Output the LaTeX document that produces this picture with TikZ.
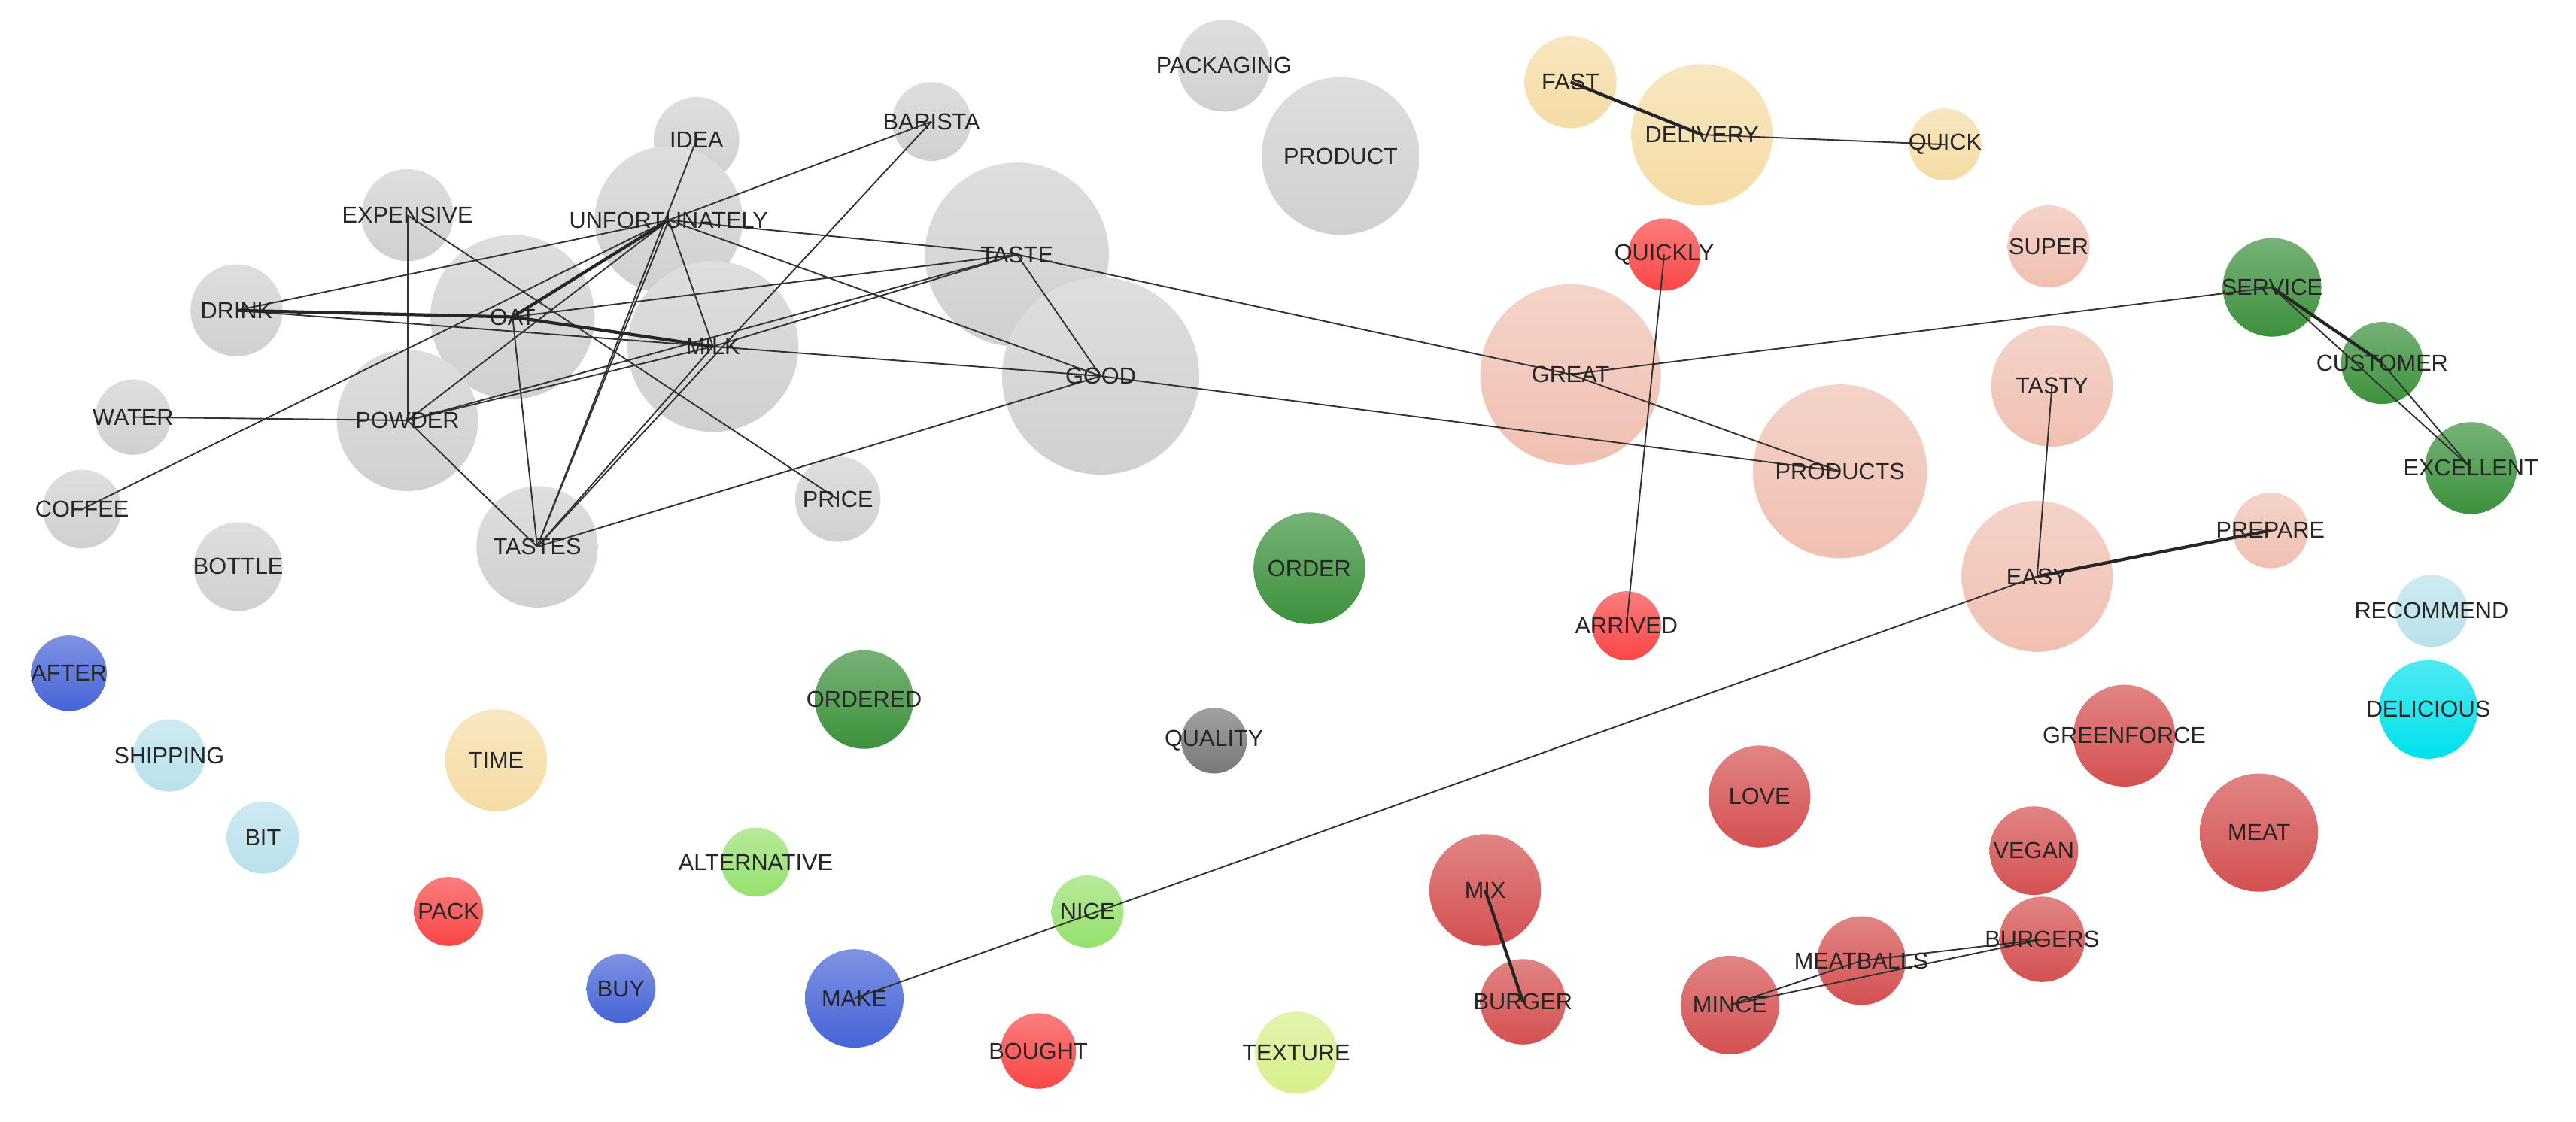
\documentclass[tikz,border=0pt]{standalone}
\usepackage{fontspec}
\setmainfont{Liberation Sans}
\begin{document}
\begin{tikzpicture}[x=0.02cm,y=-0.02cm,
  edge/.style={draw=black!80,line width=0.5pt},
  thick edge/.style={draw=black!85,line width=1.1pt},
  lbl/.style={font=\fontsize{8}{9}\selectfont,text=black!85}]
\definecolor{cgray}{RGB}{208,208,208}
\definecolor{csal}{RGB}{240,192,178}
\definecolor{cgreen}{RGB}{60,145,60}
\definecolor{cred}{RGB}{212,80,80}
\definecolor{cbred}{RGB}{250,70,70}
\definecolor{cyel}{RGB}{245,220,165}
\definecolor{clb}{RGB}{185,225,235}
\definecolor{cblue}{RGB}{70,100,215}
\definecolor{clg}{RGB}{150,225,110}
\definecolor{ccyan}{RGB}{0,225,235}
\definecolor{cyg}{RGB}{215,240,140}
\definecolor{cdg}{RGB}{120,120,120}
\useasboundingbox[fill=white] (0,0) rectangle (1568,683);
\newcommand\bub[6]{\node[circle,inner sep=0pt,minimum size=#4*0.04cm,top color=#5!70,bottom color=#5] (#1) at (#2,#3) {};}
\newcommand\lab[2]{\node[lbl] at (#1) {#2};}
% bubbles
\bub{packaging}{745}{40}{28}{cgray}{}
\bub{product}{816}{95}{48}{cgray}{}
\bub{fast}{956}{50}{28}{cyel}{}
\bub{delivery}{1036}{82}{43}{cyel}{}
\bub{quick}{1184}{88}{22}{cyel}{}
\bub{idea}{424}{85}{26}{cgray}{}
\bub{barista}{567}{74}{24}{cgray}{}
\bub{expensive}{248}{131}{28}{cgray}{}
\bub{unfort}{407}{134}{45}{cgray}{}
\bub{taste}{619}{155}{56}{cgray}{}
\bub{quickly}{1013}{155}{22}{cbred}{}
\bub{super}{1247}{150}{25}{csal}{}
\bub{service}{1383}{175}{30}{cgreen}{}
\bub{drink}{144}{189}{28}{cgray}{}
\bub{oat}{312}{193}{50}{cgray}{}
\bub{milk}{434}{211}{52}{cgray}{}
\bub{good}{670}{229}{60}{cgray}{}
\bub{great}{956}{228}{55}{csal}{}
\bub{customer}{1450}{221}{25}{cgreen}{}
\bub{tasty}{1249}{235}{37}{csal}{}
\bub{water}{81}{254}{23}{cgray}{}
\bub{powder}{248}{256}{43}{cgray}{}
\bub{products}{1120}{287}{53}{csal}{}
\bub{excellent}{1504}{285}{28}{cgreen}{}
\bub{coffee}{50}{310}{24}{cgray}{}
\bub{price}{510}{304}{26}{cgray}{}
\bub{tastes}{327}{333}{37}{cgray}{}
\bub{bottle}{145}{345}{27}{cgray}{}
\bub{order}{797}{346}{34}{cgreen}{}
\bub{easy}{1240}{351}{46}{csal}{}
\bub{prepare}{1382}{323}{23}{csal}{}
\bub{arrived}{990}{381}{21}{cbred}{}
\bub{recommend}{1480}{372}{22}{clb}{}
\bub{after}{42}{410}{23}{cblue}{}
\bub{ordered}{526}{426}{30}{cgreen}{}
\bub{quality}{739}{451}{20}{cdg}{}
\bub{delicious}{1478}{432}{30}{ccyan}{}
\bub{greenforce}{1293}{448}{31}{cred}{}
\bub{shipping}{103}{460}{22}{clb}{}
\bub{time}{302}{463}{31}{cyel}{}
\bub{love}{1071}{485}{31}{cred}{}
\bub{meat}{1375}{507}{36}{cred}{}
\bub{bit}{160}{510}{22}{clb}{}
\bub{alternative}{460}{525}{21}{clg}{}
\bub{vegan}{1238}{518}{27}{cred}{}
\bub{mix}{904}{542}{34}{cred}{}
\bub{nice}{662}{555}{22}{clg}{}
\bub{pack}{273}{555}{21}{cbred}{}
\bub{burgers}{1243}{572}{26}{cred}{}
\bub{meatballs}{1133}{585}{27}{cred}{}
\bub{buy}{378}{602}{21}{cblue}{}
\bub{make}{520}{608}{30}{cblue}{}
\bub{burger}{927}{610}{26}{cred}{}
\bub{mince}{1053}{612}{30}{cred}{}
\bub{bought}{632}{640}{23}{cbred}{}
\bub{texture}{789}{641}{25}{cyg}{}
% edges
\foreach \a/\b in {delivery/quick,quickly/arrived,great/service,great/products,great/taste,good/products,
  service/excellent,customer/excellent,tasty/easy,easy/make,mince/meatballs,mince/burgers,meatballs/burgers,
  drink/unfort,drink/milk,expensive/powder,expensive/price,water/powder,coffee/unfort,oat/taste,oat/tastes,
  idea/tastes,barista/unfort,barista/tastes,unfort/taste,unfort/good,unfort/powder,unfort/tastes,unfort/milk,
  milk/taste,milk/good,milk/powder,milk/tastes,taste/good,taste/powder,powder/tastes,tastes/good}
  \draw[edge] (\a.center) -- (\b.center);
\foreach \a/\b in {fast/delivery,service/customer,easy/prepare,mix/burger,drink/oat,oat/milk,oat/unfort}
  \draw[thick edge] (\a.center) -- (\b.center);
% labels
\lab{packaging}{PACKAGING}\lab{product}{PRODUCT}\lab{fast}{FAST}\lab{delivery}{DELIVERY}
\lab{quick}{QUICK}\lab{idea}{IDEA}\lab{barista}{BARISTA}\lab{expensive}{EXPENSIVE}
\lab{unfort}{UNFORTUNATELY}\lab{taste}{TASTE}\lab{quickly}{QUICKLY}\lab{super}{SUPER}
\lab{service}{SERVICE}\lab{drink}{DRINK}\lab{oat}{OAT}\lab{milk}{MILK}\lab{good}{GOOD}
\lab{great}{GREAT}\lab{customer}{CUSTOMER}\lab{tasty}{TASTY}\lab{water}{WATER}
\lab{powder}{POWDER}\lab{products}{PRODUCTS}\lab{excellent}{EXCELLENT}\lab{coffee}{COFFEE}
\lab{price}{PRICE}\lab{tastes}{TASTES}\lab{bottle}{BOTTLE}\lab{order}{ORDER}\lab{easy}{EASY}
\lab{prepare}{PREPARE}\lab{arrived}{ARRIVED}\lab{recommend}{RECOMMEND}\lab{after}{AFTER}
\lab{ordered}{ORDERED}\lab{quality}{QUALITY}\lab{delicious}{DELICIOUS}\lab{greenforce}{GREENFORCE}
\lab{shipping}{SHIPPING}\lab{time}{TIME}\lab{love}{LOVE}\lab{meat}{MEAT}\lab{bit}{BIT}
\lab{alternative}{ALTERNATIVE}\lab{vegan}{VEGAN}\lab{mix}{MIX}\lab{nice}{NICE}\lab{pack}{PACK}
\lab{burgers}{BURGERS}\lab{meatballs}{MEATBALLS}\lab{buy}{BUY}\lab{make}{MAKE}
\lab{burger}{BURGER}\lab{mince}{MINCE}\lab{bought}{BOUGHT}\lab{texture}{TEXTURE}
\end{tikzpicture}
\end{document}
